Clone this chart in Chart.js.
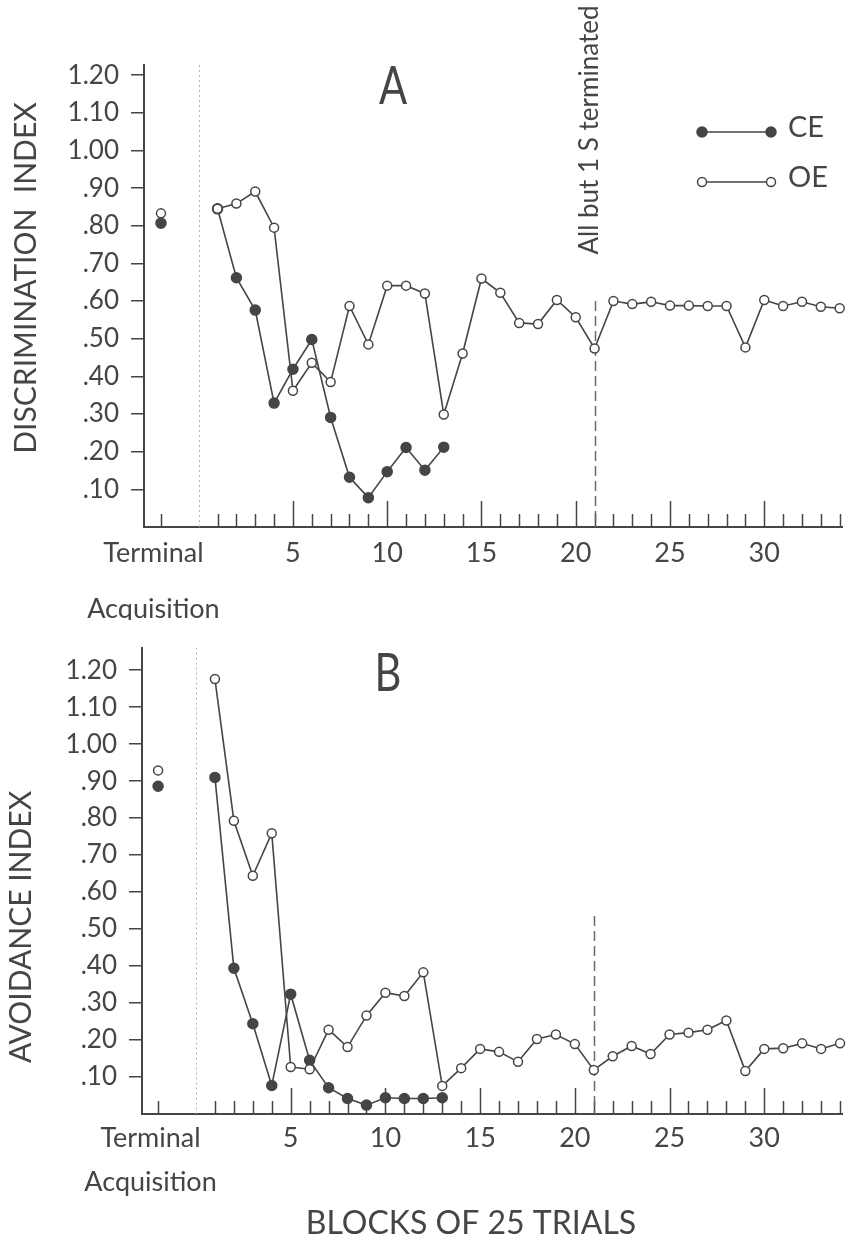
<!DOCTYPE html>
<html>
<head>
<meta charset="utf-8">
<script src="https://cdn.jsdelivr.net/npm/chart.js@4.4.1/dist/chart.umd.min.js"></script>
<style>
  body { margin: 0; background: #fff; }
  canvas { display: block; }
</style>
</head>
<body>
<canvas id="discChart" width="849" height="620"></canvas>
<canvas id="avoidChart" width="849" height="620"></canvas>
<script>
// values (blocks of 25 trials)
const blockNums = [1, 2, 3, 4, 5, 6, 7, 8, 9, 10, 11, 12, 13, 14, 15, 16, 17,
  18, 19, 20, 21, 22, 23, 24, 25, 26, 27, 28, 29, 30, 31, 32, 33, 34];
const terminalBlock = -2;
const terminalLabel = ["Terminal", "", "Acquisition"];
const xLabelTicks = [5, 10, 15, 20, 25, 30];
const yTickValues = [0.1, 0.2, 0.3, 0.4, 0.5, 0.6, 0.7, 0.8, 0.9, 1.0, 1.1, 1.2];

// A - discrimination index
const discTerminalCE = 0.807;
const discTerminalOE = 0.833;
const discCE = [0.845, 0.662, 0.576, 0.329, 0.419, 0.498, 0.291, 0.132, 0.078,
  0.147, 0.211, 0.151, 0.212];
const discOE = [0.845, 0.859, 0.891, 0.795, 0.362, 0.436, 0.385, 0.587, 0.485,
  0.641, 0.641, 0.620, 0.299, 0.461, 0.660, 0.622, 0.542, 0.539, 0.603, 0.557,
  0.474, 0.600, 0.592, 0.598, 0.588, 0.588, 0.587, 0.587, 0.477, 0.603, 0.587,
  0.598, 0.585, 0.581];

// B - avoidance index
const avoidTerminalCE = 0.886;
const avoidTerminalOE = 0.929;
const avoidCE = [0.910, 0.394, 0.244, 0.077, 0.324, 0.145, 0.071, 0.042, 0.024,
  0.044, 0.042, 0.042, 0.044];
const avoidOE = [1.176, 0.793, 0.644, 0.759, 0.127, 0.121, 0.228, 0.181, 0.266,
  0.328, 0.319, 0.383, 0.076, 0.124, 0.176, 0.168, 0.141, 0.203, 0.215, 0.189,
  0.119, 0.156, 0.184, 0.162, 0.215, 0.220, 0.228, 0.253, 0.116, 0.176, 0.178,
  0.191, 0.176, 0.191];

const cutoffBlock = 21; // "All but 1 S terminated"
const separatorBlock = 0;

const ink = "#454545";
const FONT = "Lato, 'Liberation Sans', 'DejaVu Sans', sans-serif";
Chart.defaults.font.family = FONT;
Chart.defaults.color = ink;

const toPoints = (vals) => vals.map((v, i) => ({ x: blockNums[i], y: v }));

function seriesSets(ce, oe, termCE, termOE) {
  const common = { borderColor: ink, borderWidth: 1.6, tension: 0, clip: false,
    pointBorderColor: ink, pointBorderWidth: 1.5 };
  return [
    { ...common, label: "OE", data: toPoints(oe), pointRadius: 4.5,
      pointBackgroundColor: "#fff" },
    { ...common, label: "OE terminal", data: [{ x: terminalBlock, y: termOE }],
      showLine: false, pointRadius: 4.5, pointBackgroundColor: "#fff" },
    { ...common, label: "CE", data: toPoints(ce), pointRadius: 5,
      pointBackgroundColor: ink },
    { ...common, label: "CE terminal", data: [{ x: terminalBlock, y: termCE }],
      showLine: false, pointRadius: 5, pointBackgroundColor: ink },
  ];
}

// ticks pointing up from the baseline, dotted separator, dashed cutoff, texts
function decor(cfg) {
  return {
    id: "decor",
    beforeDatasetsDraw(chart) {
      const { ctx, chartArea, scales: { x, y } } = chart;
      ctx.save();
      ctx.strokeStyle = ink;
      ctx.lineWidth = 1.5;
      [terminalBlock, ...blockNums].forEach((b) => {
        const px = Math.round(x.getPixelForValue(b)) + 0.5;
        const len = b > 0 && b % 5 === 0 ? 26 : 13;
        ctx.beginPath();
        ctx.moveTo(px, chartArea.bottom);
        ctx.lineTo(px, chartArea.bottom - len);
        ctx.stroke();
      });
      // dotted separator between terminal and acquisition blocks
      const sx = Math.round(x.getPixelForValue(separatorBlock)) + 0.5;
      ctx.strokeStyle = "#b5b5b5";
      ctx.lineWidth = 1;
      ctx.setLineDash([2, 3]);
      ctx.beginPath();
      ctx.moveTo(sx, chartArea.top);
      ctx.lineTo(sx, chartArea.bottom);
      ctx.stroke();
      // dashed cutoff line
      const cx = Math.round(x.getPixelForValue(cutoffBlock)) + 0.5;
      ctx.strokeStyle = "#6a6a6a";
      ctx.lineWidth = 1.5;
      ctx.setLineDash([10, 5]);
      ctx.beginPath();
      ctx.moveTo(cx, y.getPixelForValue(cfg.cutoffTop));
      ctx.lineTo(cx, chartArea.bottom);
      ctx.stroke();
      ctx.restore();
    },
    afterDraw(chart) {
      const { ctx } = chart;
      ctx.save();
      ctx.fillStyle = ink;
      cfg.texts.forEach((t) => {
        ctx.save();
        ctx.translate(t.x, t.y);
        if (t.rot) ctx.rotate(t.rot);
        if (t.sx) ctx.scale(t.sx, 1);
        ctx.font = `${t.size}px ${FONT}`;
        ctx.textAlign = t.align || "center";
        ctx.textBaseline = "middle";
        ctx.fillText(t.text, 0, 0);
        ctx.restore();
      });
      (cfg.legend || []).forEach((l) => {
        ctx.strokeStyle = ink;
        ctx.lineWidth = 1.6;
        ctx.beginPath();
        ctx.moveTo(l.x0, l.y);
        ctx.lineTo(l.x1, l.y);
        ctx.stroke();
        [l.x0, l.x1].forEach((px) => {
          ctx.beginPath();
          ctx.arc(px, l.y, l.filled ? 5 : 4.5, 0, Math.PI * 2);
          ctx.fillStyle = l.filled ? ink : "#fff";
          ctx.fill();
          ctx.lineWidth = 1.5;
          ctx.stroke();
        });
        ctx.fillStyle = ink;
        ctx.font = `29px ${FONT}`;
        ctx.textAlign = "left";
        ctx.textBaseline = "middle";
        ctx.fillText(l.label, l.x1 + 17, l.y - 4);
      });
      ctx.restore();
    },
  };
}

function makeChart(id, p) {
  return new Chart(document.getElementById(id), {
    type: "line",
    data: { datasets: seriesSets(p.ce, p.oe, p.termCE, p.termOE) },
    options: {
      responsive: false,
      animation: false,
      devicePixelRatio: 1,
      layout: { padding: { top: p.top, right: 0, bottom: 0, left: 0 } },
      plugins: { legend: { display: false }, tooltip: { enabled: false } },
      scales: {
        x: {
          type: "linear",
          bounds: "data",
          min: p.xMin,
          max: p.xMax,
          afterBuildTicks: (axis) => {
            axis.ticks = [p.termLabelAt, ...xLabelTicks].map((v) => ({ value: v }));
          },
          afterFit: (axis) => { axis.height = p.xHeight; },
          grid: { display: false, drawTicks: false },
          border: { display: true, color: ink, width: 2 },
          ticks: {
            autoSkip: false,
            maxRotation: 0,
            padding: p.labelPad,
            color: ink,
            font: { size: 27, lineHeight: p.labelLine },
            callback: (v) => (v === p.termLabelAt ? terminalLabel : String(v)),
          },
        },
        y: {
          type: "linear",
          bounds: "data",
          min: 0,
          max: p.yMax,
          afterBuildTicks: (axis) => {
            axis.ticks = yTickValues.map((v) => ({ value: v }));
          },
          afterFit: (axis) => { axis.width = p.yLeft; },
          grid: { drawOnChartArea: false, drawTicks: true, tickLength: 13,
            color: ink, lineWidth: 1.5 },
          border: { display: true, color: ink, width: 2 },
          ticks: {
            padding: 12,
            color: ink,
            font: { size: 26 },
            callback: (v) => (v >= 1 ? v.toFixed(2) : v.toFixed(2).slice(1)),
          },
        },
      },
    },
    plugins: [decor(p)],
  });
}

makeChart("discChart", {
  ce: discCE, oe: discOE, termCE: discTerminalCE, termOE: discTerminalOE,
  top: 65, xHeight: 93, yLeft: 144, xMin: -2.9, xMax: 34.15, yMax: 1.227,
  termLabelAt: -2.4, labelPad: 13, labelLine: 1.02, cutoffTop: 0.6,
  texts: [
    { text: "DISCRIMINATION  INDEX", x: 26, y: 278, rot: -Math.PI / 2, size: 30 },
    { text: "A", x: 393, y: 87, size: 52, sx: 0.8 },
    { text: "All but 1 S terminated", x: 590, y: 130, rot: -Math.PI / 2, size: 26 },
  ],
  legend: [
    { label: "CE", x0: 702, x1: 771, y: 132, filled: true },
    { label: "OE", x0: 702, x1: 771, y: 182, filled: false },
  ],
});

makeChart("avoidChart", {
  ce: avoidCE, oe: avoidOE, termCE: avoidTerminalCE, termOE: avoidTerminalOE,
  top: 18, xHeight: 126, yLeft: 142, xMin: -2.85, xMax: 34.13, yMax: 1.261,
  termLabelAt: -2.4, labelPad: 13, labelLine: 0.815, cutoffTop: 0.535,
  texts: [
    { text: "AVOIDANCE INDEX", x: 21, y: 307, rot: -Math.PI / 2, size: 30 },
    { text: "B", x: 388, y: 54, size: 52, sx: 0.8 },
    { text: "BLOCKS OF 25 TRIALS", x: 471, y: 604, size: 32 },
  ],
});
</script>
</body>
</html>
